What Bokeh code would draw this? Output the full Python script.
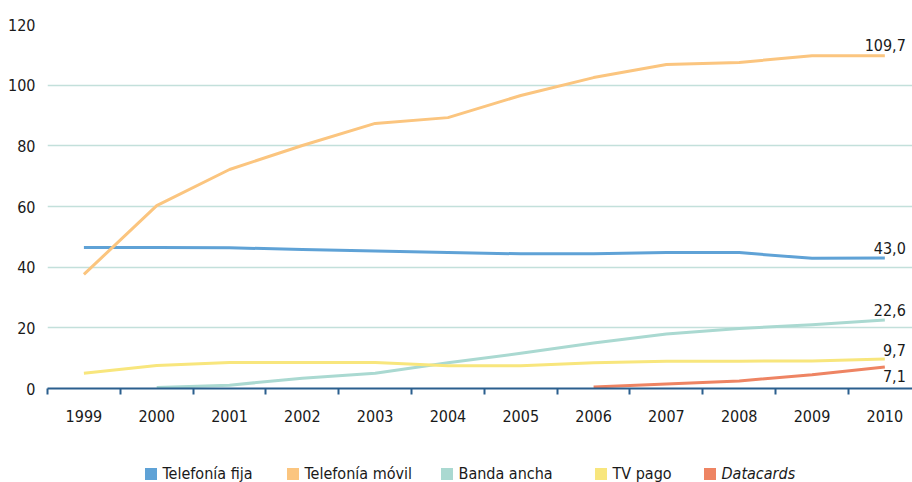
from bokeh.plotting import figure
from bokeh.layouts import column
from bokeh.models import (ColumnDataSource, Range1d, FixedTicker, Legend, LegendItem)
from bokeh.core.properties import value
from bokeh.embed import file_html
from bokeh.resources import INLINE

years = ["1999", "2000", "2001", "2002", "2003", "2004", "2005", "2006", "2007", "2008", "2009", "2010"]
fija = [46.5, 46.5, 46.4, 45.8, 45.3, 44.8, 44.4, 44.4, 44.8, 44.8, 42.9, 43.0]
movil = [37.6, 60.3, 72.2, 80.1, 87.4, 89.3, 96.6, 102.5, 106.8, 107.5, 109.7, 109.7]
banda_years = years[1:]
banda = [0.3, 1.1, 3.4, 5.0, 8.5, 11.6, 15.0, 18.0, 19.8, 21.0, 22.6]
tv = [5.0, 7.6, 8.6, 8.6, 8.6, 7.5, 7.5, 8.5, 9.0, 9.0, 9.1, 9.7]
dc_years = years[7:]
datacards = [0.5, 1.5, 2.5, 4.5, 7.1]
yticks = [0, 20, 40, 60, 80, 100, 120]

names = ["Telefonía fija", "Telefonía móvil", "Banda ancha", "TV pago", "Datacards"]
colors = ["#5fa2d6", "#fbc57f", "#aad9d1", "#f8e67d", "#ee8463"]
legend_style = ["normal", "normal", "normal", "normal", "italic"]

FONT = "Liberation Sans Narrow, Arial Narrow, DejaVu Sans Condensed, sans-serif"
FS = "16px"
TXT = "#1a1a1a"
idx = {y: i for i, y in enumerate(years)}

p = figure(width=912, height=448, output_backend="svg", toolbar_location=None,
           x_range=Range1d(-0.5, 11.38), y_range=Range1d(0, 120),
           min_border_left=47, min_border_right=0, min_border_top=24, min_border_bottom=60)
p.outline_line_color = None

xa = p.xaxis[0]
xa.ticker = FixedTicker(ticks=list(range(12)), minor_ticks=[i - 0.5 for i in range(13)])
xa.major_label_overrides = {i: y for i, y in enumerate(years)}
xa.major_tick_line_color = None
xa.major_tick_out = 0
xa.major_tick_in = 0
xa.minor_tick_line_color = "#2b5f8e"
xa.minor_tick_line_width = 2
xa.minor_tick_out = 6
xa.minor_tick_in = 0
xa.axis_line_color = "#2b5f8e"
xa.axis_line_width = 2
xa.major_label_standoff = 15
xa.major_label_text_font = FONT
xa.major_label_text_font_size = FS
xa.major_label_text_color = TXT

ya = p.yaxis[0]
ya.ticker = FixedTicker(ticks=yticks)
ya.axis_line_color = None
ya.major_tick_line_color = None
ya.minor_tick_line_color = None
ya.major_tick_out = 0
ya.major_tick_in = 0
ya.major_label_standoff = 12
ya.major_label_text_font = FONT
ya.major_label_text_font_size = FS
ya.major_label_text_color = TXT

p.xgrid.grid_line_color = None
p.ygrid.grid_line_color = "#c3e0db"
p.ygrid.grid_line_width = 1.5

series = [(years, fija), (years, movil), (banda_years, banda), (years, tv), (dc_years, datacards)]
for (ys, vals), c in zip(series, colors):
    src = ColumnDataSource(dict(x=[idx[y] for y in ys], y=vals))
    p.line("x", "y", source=src, line_color=c, line_width=3, line_join="round")

def fmt(v):
    return f"{v:.1f}".replace(".", ",")

end_specs = [(movil, -5, "bottom"), (fija, -4, "bottom"), (banda, -4, "bottom"),
             (tv, -3, "bottom"), (datacards, 3, "top")]
for vals, yoff, base in end_specs:
    src = ColumnDataSource(dict(x=[11], y=[vals[-1]], t=[fmt(vals[-1])]))
    p.text("x", "y", text="t", source=src, x_offset=21, y_offset=yoff,
           text_align="right", text_baseline=base, text_font=value(FONT),
           text_font_size=FS, text_color=TXT)

# legend strip (its frame is aligned with the main frame, which starts 47px in)
lf = figure(width=912, height=34, output_backend="svg", toolbar_location=None,
            x_axis_location=None, y_axis_location=None,
            x_range=Range1d(0, 1), y_range=Range1d(0, 1), min_border=0)
lf.outline_line_color = None
lf.xgrid.grid_line_color = None
lf.ygrid.grid_line_color = None

legend_x = [95.5, 237.5, 391.5, 545.5, 654.5]
nan = float("nan")
for n, c, lx, st in zip(names, colors, legend_x, legend_style):
    r = lf.quad(left="left", right="right", bottom="bottom", top="top",
                source=ColumnDataSource(dict(left=[nan], right=[nan], bottom=[nan], top=[nan])),
                fill_color=c, line_color=None)
    lg = Legend(items=[LegendItem(label=n, renderers=[r], index=0)], location=(lx, -1),
                orientation="horizontal", glyph_width=15, glyph_height=15,
                label_standoff=5, spacing=0, padding=0, margin=0,
                border_line_color=None, background_fill_alpha=0,
                label_text_font=FONT, label_text_font_size=FS,
                label_text_color=TXT, label_text_font_style=st, label_height=15)
    lf.add_layout(lg, "center")

open("out.html", "w").write(file_html(column(p, lf, spacing=0), INLINE))
